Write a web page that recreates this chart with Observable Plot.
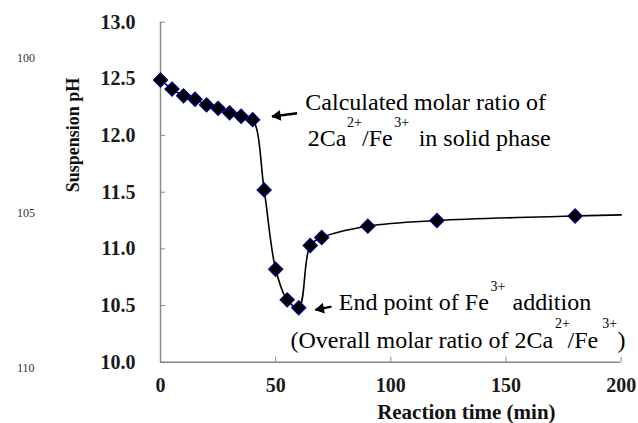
<!DOCTYPE html>
<html><head><meta charset="utf-8">
<script src="https://cdn.jsdelivr.net/npm/d3@7"></script>
<script src="https://cdn.jsdelivr.net/npm/@observablehq/plot@0.6"></script>
<style>body{margin:0;background:#fff} #chart svg{overflow:visible}</style>
</head><body><div id="chart"></div>
<script>
// ---- data ----
const timeMin = [0, 5, 10, 15, 20, 25, 30, 35, 40, 45, 50, 55, 60, 65, 70, 90, 120, 180];
const suspensionPH = [12.49, 12.41, 12.35, 12.32, 12.27, 12.24, 12.20, 12.17, 12.14, 11.52, 10.82, 10.55, 10.48, 11.03, 11.10, 11.20, 11.25, 11.29];
const curveEndTime = [200];
const curveEndPH = [11.30];
const xTicks = [0, 50, 100, 150, 200];
const yTicks = [10, 10.5, 11, 11.5, 12, 12.5, 13];
const xTitle = "Reaction time (min)";
const yTitle = "Suspension pH";
const note1 = ["Calculated molar ratio of", "2Ca", "2+", "/Fe", "3+", "in solid phase"];
const note2 = ["End point of Fe", "3+", "addition", "(Overall molar ratio of 2Ca", "2+", "/Fe", "3+", ")"];
const lineNumbers = ["100", "105", "110"];
// arrow endpoints (data units): [tailTime, tailPH, tipTime, tipPH]
const arrow1 = [59.3, 12.197, 48.4, 12.168];
const arrow2 = [74.2, 10.491, 67.2, 10.462];

// ---- build ----
const serif = "'Liberation Serif','Times New Roman',serif";
const pts = timeMin.map((t, i) => ({t, pH: suspensionPH[i]}));
const curve = pts.concat(curveEndTime.map((t, i) => ({t, pH: curveEndPH[i]})));
const ptA = [pts[8]];
const ptB = [pts[12]];
const arrows = [arrow1, arrow2].map(a => ({x1: a[0], y1: a[1], x2: a[2], y2: a[3]}));

function seg(pt, text, dx, dy, size) {
  return Plot.text(pt, {x: "t", y: "pH", text: () => text, dx, dy, textAnchor: "start", lineAnchor: "bottom",
    fontSize: size, fontWeight: "normal", fontFamily: serif, fill: "#000"});
}
const big = 24, sup = 14, up = -19.3;

const chart = Plot.plot({
  width: 638, height: 423,
  marginLeft: 160, marginRight: 17.3, marginTop: 21.7, marginBottom: 61.3,
  style: {fontFamily: serif, fontWeight: "bold", fontSize: "20px", background: "#fff", color: "#111"},
  x: {domain: [0, 200]},
  y: {domain: [10, 13]},
  marks: [
    Plot.ruleY([10], {stroke: "#8a8a8a", strokeWidth: 1.5}),
    Plot.ruleX([0], {stroke: "#8a8a8a", strokeWidth: 1.5}),
    Plot.axisX({ticks: xTicks, tickSize: -5, tickPadding: 20.3, tickFormat: d => String(d), stroke: "#8a8a8a", fill: "#1a1a1a", label: null, fontSize: 20}),
    Plot.axisY({ticks: yTicks, tickSize: -5, tickPadding: 30, tickFormat: d3.format(".1f"), stroke: "#8a8a8a", fill: "#1a1a1a", label: null, fontSize: 20}),
    Plot.line(curve, {x: "t", y: "pH", curve: "catmull-rom", stroke: "#000", strokeWidth: 1.6}),
    Plot.dot(pts, {x: "t", y: "pH", symbol: "diamond2", r: 6.3, fill: "#000", stroke: "#000080", strokeWidth: 1.3}),
    // arrows: shaft + filled head
    Plot.link(arrows, {x1: "x1", y1: "y1", x2: "x2", y2: "y2", stroke: "#000", strokeWidth: 2.4}),
    Plot.dot([arrows[0]], {x: "x2", y: "y2", symbol: "triangle", r: 4, fill: "#000", rotate: -97.5, dx: 5.5, dy: -0.7}),
    Plot.dot([arrows[1]], {x: "x2", y: "y2", symbol: "triangle", r: 4, fill: "#000", rotate: -101, dx: 5.5, dy: -1.1}),
    seg(ptA, note1[0], 52.7, -10, big),
    seg(ptA, note1[1], 55, 26.8, big),
    seg(ptA, note1[2], 94.4, 26.8 + up, sup),
    seg(ptA, note1[3], 109.4, 26.8, big),
    seg(ptA, note1[4], 141.7, 26.8 + up, sup),
    seg(ptA, note1[5], 166, 26.8, big),
    seg(ptB, note2[0], 40.1, 2.2, big),
    seg(ptB, note2[1], 191.8, 2.2 + up, sup),
    seg(ptB, note2[2], 213.8, 2.2, big),
    seg(ptB, note2[3], -8.2, 39.7, big),
    seg(ptB, note2[4], 256.3, 39.7 + up, sup),
    seg(ptB, note2[5], 268.8, 39.7, big),
    seg(ptB, note2[6], 303.5, 39.7 + up, sup),
    seg(ptB, note2[7], 318.8, 39.7, big),
    Plot.text([xTitle], {frameAnchor: "bottom", dx: 75.5, dy: 56.8, lineAnchor: "bottom", fontSize: 21, fontWeight: "bold", fill: "#111"}),
    Plot.text([yTitle], {frameAnchor: "left", dx: -87, rotate: -90, fontSize: 18, fontWeight: "bold", fill: "#111"}),
    Plot.text([lineNumbers[0]], {frameAnchor: "top-left", dx: -143.5, dy: 31.6, fontSize: 12, fontWeight: "normal", fill: "#333"}),
    Plot.text([lineNumbers[1]], {frameAnchor: "top-left", dx: -143.5, dy: 186.6, fontSize: 12, fontWeight: "normal", fill: "#333"}),
    Plot.text([lineNumbers[2]], {frameAnchor: "top-left", dx: -143.5, dy: 341.3, fontSize: 12, fontWeight: "normal", fill: "#333"})
  ]
});
document.getElementById("chart").appendChild(chart);
</script>
</body></html>
